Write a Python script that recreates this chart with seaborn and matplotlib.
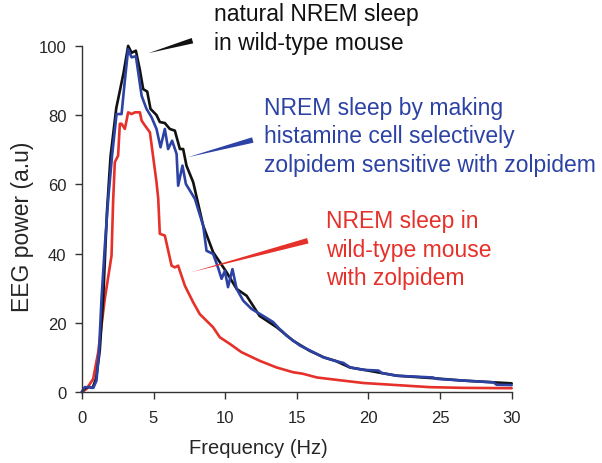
import matplotlib
matplotlib.use("Agg")
import matplotlib.pyplot as plt
import seaborn as sns

# natural NREM sleep, wild-type mouse (black)
wt_x = [0, 0.25, 0.5, 0.75, 1.0, 1.25, 1.5, 1.75, 2.0, 2.4, 2.9, 3.23, 3.47, 3.77,
        4.05, 4.28, 4.56, 4.79, 5.21, 5.44, 5.79, 6.14, 6.49, 6.84, 7.07, 7.3, 7.77,
        8.47, 9.16, 9.63, 10.1, 10.8, 11.5, 12.4, 13.6, 14.75, 15.9, 16.9, 17.7,
        18.7, 19.7, 20.9, 22, 24.5, 26.6, 28.7, 30]
wt_y = [0, 1.2, 1.4, 1.2, 4, 12, 28, 52, 68, 82, 92, 100, 98, 98.6,
        93, 87.5, 86.8, 81.8, 80, 78, 77.7, 76, 75.5, 70.2, 70.2, 65.4, 60.6,
        48, 40.4, 37.5, 34.6, 29.8, 27.8, 22, 18.7, 14.8, 11.9, 10, 9,
        7.1, 6.4, 5.5, 4.7, 4.0, 3.3, 2.8, 2.5]

# histamine-cell selective zolpidem (blue)
his_x = [0, 0.2, 0.55, 0.8, 1.02, 1.2, 1.37, 1.6, 1.84, 2.1, 2.42, 2.77, 3.0, 3.23,
         3.47, 3.77, 4.17, 4.51, 4.86, 5.21, 5.49, 5.79, 6.02, 6.3, 6.61, 6.72,
         7.02, 7.26, 7.89, 8.47, 8.7, 9.16, 9.5, 9.75, 9.98, 10.2, 10.51, 10.8,
         11.26, 11.84, 12.65, 13.35, 13.8, 14.0, 14.28, 15.23, 16.16, 16.86, 17.67,
         18.26, 18.72, 19.65, 20.7, 20.93, 21.98, 24.5, 24.77, 26.63, 28.72, 28.95, 30]
his_y = [0, 1.4, 1.4, 1.2, 3.3, 12, 26.9, 42, 55.8, 68, 80.3, 80.3, 90, 99,
         96.7, 97, 85.6, 81.8, 79.4, 76, 70.7, 76, 70.2, 72.6, 68.8, 59.6,
         65.4, 60.1, 55.8, 48, 40.8, 39.9, 36, 32.7, 35, 30.3, 35.5, 29.8,
         26.4, 24, 22, 20.2, 18.2, 17.5, 16.3, 13.4, 11.5, 10, 9,
         8.4, 7.1, 6.4, 6.2, 5.5, 4.7, 4.2, 3.8, 3.3, 2.8, 2.1, 2.0]

# wild-type mouse with zolpidem (red)
zol_x = [0, 0.33, 0.79, 1.14, 1.6, 2.07, 2.18, 2.3, 2.53, 2.65, 2.77, 3.0, 3.23,
         3.47, 3.7, 4.05, 4.17, 4.4, 4.75, 5.21, 5.33, 5.44, 5.79, 6.26, 6.49,
         6.72, 6.84, 7.19, 7.77, 8.23, 9.16, 9.63, 10.33, 11.14, 12.42, 13.58,
         14.75, 15.4, 16.4, 17.8, 19.65, 21.98, 24.3, 26.6, 30]
zol_y = [0, 0.9, 3.8, 11.5, 26.9, 39.4, 55, 66.4, 68.3, 77.5, 77.5, 76, 80.8,
         80.3, 80.8, 80.8, 78.4, 77, 75, 60.6, 55.8, 45.7, 45.2, 36.5, 36,
         36.5, 35, 30.7, 25.9, 22.5, 18.7, 15.8, 13.9, 11.5, 9, 7.1,
         5.7, 5.3, 4.2, 3.5, 2.6, 2.0, 1.4, 1.2, 1.1]

x_ticks = [0, 5, 10, 15, 20, 25, 30]
y_ticks = [0, 20, 40, 60, 80, 100]

BLACK = "#111111"
BLUE = "#2C42A4"
RED = "#E6302A"

sns.set_style("ticks")
plt.rcParams["font.family"] = ["Liberation Sans", "DejaVu Sans"]

fig = plt.figure(figsize=(6.02, 4.64), dpi=100)
ax = fig.add_axes([0.136, 0.153, 0.714, 0.746])

sns.lineplot(x=zol_x, y=zol_y, color=RED, lw=1.9, sort=False, ax=ax)
sns.lineplot(x=wt_x, y=wt_y, color=BLACK, lw=1.9, sort=False, ax=ax)
sns.lineplot(x=his_x, y=his_y, color=BLUE, lw=1.9, sort=False, ax=ax)
for ln in ax.lines:
    ln.set_clip_on(False)

ax.set_xlim(0, 30)
ax.set_ylim(0, 100)
ax.set_xticks(x_ticks)
ax.set_yticks(y_ticks)
ax.tick_params(labelsize=12, length=5, width=1, color="#333333", pad=6)
ax.tick_params(axis="x", pad=8)
for side in ["left", "bottom"]:
    ax.spines[side].set_color("#333333")
    ax.spines[side].set_linewidth(1)
sns.despine(ax=ax)

ax.set_xlabel("Frequency (Hz)", fontsize=14.5)
ax.xaxis.set_label_coords(0.41, -0.134)
ax.set_ylabel("EEG power (a.u)", fontsize=16.5)
ax.yaxis.set_label_coords(-0.112, 0.48)

# tapered arrows pointing at the curves
arrows = [((4.65, 97.9), (7.72, 101.5), BLACK),
          ((7.37, 67.8), (11.93, 72.8), BLUE),
          ((7.63, 34.6), (15.77, 43.7), RED)]
for tip, tail, col in arrows:
    ax.annotate("", xy=tip, xytext=tail, annotation_clip=False,
                arrowprops=dict(arrowstyle="wedge,tail_width=0.4", color=col,
                                shrinkA=0, shrinkB=0, lw=0))

txt = dict(fontsize=16.5, ha="left", va="center", linespacing=1.32, clip_on=False)
ax.text(9.23, 105.1, "natural NREM sleep\nin wild-type mouse", color=BLACK, **txt)
ax.text(12.72, 74.0, "NREM sleep by making\nhistamine cell selectively\nzolpidem sensitive with zolpidem",
        color=BLUE, **txt)
ax.text(17.03, 41.3, "NREM sleep in\nwild-type mouse\nwith zolpidem", color=RED, **txt)

fig.savefig("out.png", dpi=100)
